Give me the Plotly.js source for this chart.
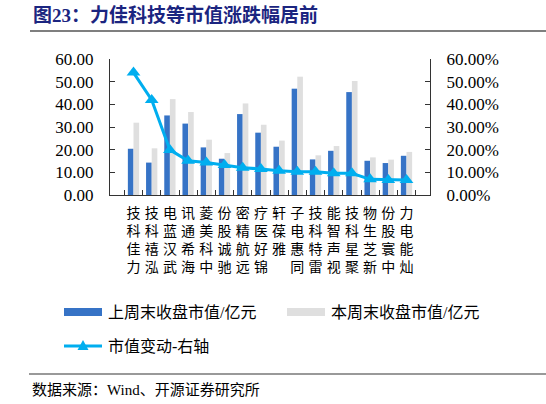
<!DOCTYPE html>
<html>
<head>
<meta charset="utf-8">
<script src="https://cdn.plot.ly/plotly-3.0.1.min.js"></script>
<style>html,body{margin:0;padding:0;background:#fff;}#chart{width:546px;height:404px;}</style>
</head>
<body>
<div id="chart"></div>
<script>
const categories = ['力佳科技','泓禧科技','武汉蓝电','海希通讯','中科美菱','驰诚股份','远航精密','锦好医疗','雅葆轩','同惠电子','雷特科技','视声智能','聚星科技','新芝生物','中寰股份','灿能电力'];
const lastWeek = [20.4, 14.3, 35.1, 31.5, 21.0, 16.0, 35.7, 27.5, 21.3, 46.9, 15.7, 19.5, 45.4, 15.1, 14.1, 17.3];
const thisWeek = [31.9, 20.6, 42.3, 36.6, 24.4, 18.5, 40.4, 31.0, 24.0, 52.2, 17.5, 21.6, 50.3, 16.6, 15.6, 19.0];
const change = [0.540, 0.419, 0.199, 0.151, 0.143, 0.132, 0.120, 0.115, 0.107, 0.103, 0.103, 0.096, 0.096, 0.069, 0.066, 0.066];
const leftTicks = [0, 10, 20, 30, 40, 50, 60];
const rightTicks = [0, 0.1, 0.2, 0.3, 0.4, 0.5, 0.6];
const seriesNames = ['上周末收盘市值/亿元', '本周末收盘市值/亿元', '市值变动-右轴'];
const titleText = '图23：力佳科技等市值涨跌幅居前';
const sourceText = '数据来源：Wind、开源证券研究所';

const FONT = 'Liberation Serif, Noto Sans CJK SC, serif';
const BLUE = '#3673C6', GRAY = '#DFDFDF', LINE = '#00AEEF';

// pixel -> paper helpers (plot area: x 110..430, y 59..195)
const L = 110, R = 430, T = 59, B = 195;
const px = v => (v - L) / (R - L);
const py = v => (B - v) / (B - T);

const tickText = categories.map(c => c.split('').reverse().join('<br>'));

const traces = [
  {type:'bar', name:seriesNames[0], x:categories, y:lastWeek, marker:{color:BLUE}, showlegend:false},
  {type:'bar', name:seriesNames[1], x:categories, y:thisWeek, marker:{color:GRAY}, showlegend:false},
  {type:'scatter', mode:'lines+markers', name:seriesNames[2], x:categories, y:change, yaxis:'y2',
   line:{color:LINE, width:3}, marker:{symbol:'triangle-up', size:12, color:LINE}, showlegend:false}
];

const legFont = {family:FONT, size:16, color:'#000'};
const layout = {
  width:546, height:404,
  margin:{l:L, r:546-R, t:T, b:404-B, pad:0},
  paper_bgcolor:'#fff', plot_bgcolor:'#fff',
  barmode:'group', bargap:0.38, bargroupgap:0,
  font:{family:FONT, color:'#000'},
  title:{text:titleText, x:33/546, xanchor:'left', xref:'container', yref:'container', y:1-15/404, yanchor:'middle',
         font:{family:FONT, size:19, color:'#1B2580', weight:'bold'}},
  xaxis:{type:'category', tickvals:categories, ticktext:tickText, tickangle:0,
         showline:true, linecolor:'#333', linewidth:1, ticks:'inside', tickson:'boundaries', ticklen:5, tickcolor:'#333',
         tickfont:{family:FONT, size:14, color:'#000'}, ticklabelstandoff:5, showgrid:false, zeroline:false, fixedrange:true},
  yaxis:{range:[0,60], tickvals:leftTicks, tickformat:'.2f', showline:true, linecolor:'#333', linewidth:1,
         ticks:'inside', ticklen:5, tickcolor:'#333', showgrid:false, zeroline:false,
         tickfont:{family:FONT, size:17, color:'#000'}, ticklabelstandoff:12},
  yaxis2:{range:[0,0.6], tickvals:rightTicks, tickformat:'.2%', overlaying:'y', side:'right', showline:true,
          linecolor:'#333', linewidth:1, ticks:'inside', ticklen:5, tickcolor:'#333', showgrid:false, zeroline:false,
          tickfont:{family:FONT, size:17, color:'#000'}, ticklabelstandoff:12},
  shapes:[
    {type:'line', xref:'paper', yref:'paper', x0:px(30), x1:px(546), y0:py(31), y1:py(31), line:{color:'#555', width:1.5}},
    {type:'line', xref:'paper', yref:'paper', x0:px(29), x1:px(546), y0:py(374), y1:py(374), line:{color:'#777', width:1.5}},
    {type:'rect', xref:'paper', yref:'paper', x0:px(64), x1:px(102), y0:py(316), y1:py(308), fillcolor:BLUE, line:{width:0}},
    {type:'rect', xref:'paper', yref:'paper', x0:px(287), x1:px(325), y0:py(316), y1:py(308), fillcolor:GRAY, line:{width:0}},
    {type:'line', xref:'paper', yref:'paper', x0:px(64), x1:px(102), y0:py(346), y1:py(346), line:{color:LINE, width:3}},
    {type:'path', xref:'paper', yref:'paper',
     path:`M${px(83)},${py(340)} L${px(88.5)},${py(350)} L${px(77.5)},${py(350)} Z`, fillcolor:LINE, line:{width:0}}
  ],
  annotations:[
    {xref:'paper', yref:'paper', x:px(106), y:py(312), xanchor:'left', yanchor:'middle', showarrow:false, text:seriesNames[0], font:legFont},
    {xref:'paper', yref:'paper', x:px(329), y:py(312), xanchor:'left', yanchor:'middle', showarrow:false, text:seriesNames[1], font:legFont},
    {xref:'paper', yref:'paper', x:px(106), y:py(346), xanchor:'left', yanchor:'middle', showarrow:false, text:seriesNames[2], font:legFont},
    {xref:'paper', yref:'paper', x:px(30), y:py(390), xanchor:'left', yanchor:'middle', showarrow:false, text:sourceText, font:{family:FONT, size:15, color:'#000'}}
  ]
};

Plotly.newPlot('chart', traces, layout, {displayModeBar:false, staticPlot:true});
</script>
</body>
</html>
